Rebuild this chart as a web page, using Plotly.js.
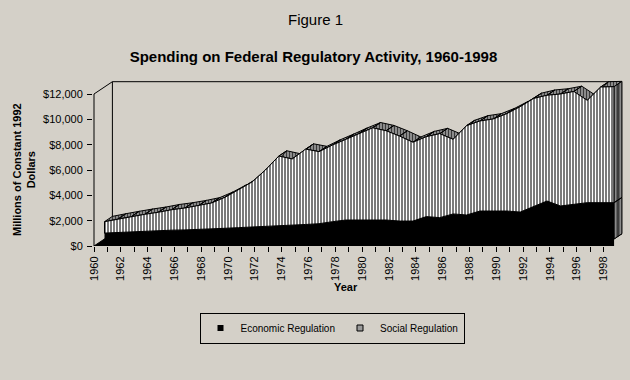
<!DOCTYPE html>
<html>
<head>
<meta charset="utf-8">
<script src="https://cdn.plot.ly/plotly-3.0.1.min.js"></script>
<style>
html,body{margin:0;padding:0;background:#d4d0c8;}
#chart{width:630px;height:380px;}
</style>
</head>
<body>
<div id="chart"></div>
<script>
// ---- data (millions of constant 1992 dollars) ----
const years = [1960,1961,1962,1963,1964,1965,1966,1967,1968,1969,1970,1971,1972,1973,1974,1975,1976,1977,1978,1979,
               1980,1981,1982,1983,1984,1985,1986,1987,1988,1989,1990,1991,1992,1993,1994,1995,1996,1997,1998];
const economic = [1020,1070,1090,1130,1200,1250,1270,1320,1340,1400,1450,1520,1580,1610,1660,1700,1760,1920,2050,2050,
                  2050,2050,1970,1970,2320,2240,2530,2450,2760,2760,2760,2680,3100,3550,3160,3290,3420,3420,3420];
const social = [900,1060,1230,1370,1460,1610,1730,1860,2060,2450,2970,3530,4420,5490,5210,5950,5690,6050,6370,6850,
                7280,7050,6710,6220,6310,6630,5890,7050,7110,7270,7690,8320,8550,8350,8840,8910,8080,9130,9160];
const seriesNames = ['Economic Regulation','Social Regulation'];
const xTickLabels = ['1960','1962','1964','1966','1968','1970','1972','1974','1976','1978',
                     '1980','1982','1984','1986','1988','1990','1992','1994','1996','1998'];
const yTickValues = [0,2000,4000,6000,8000,10000,12000];
const yTickLabels = ['$0','$2,000','$4,000','$6,000','$8,000','$10,000','$12,000'];

// ---- 3-D look: oblique depth offsets expressed in axis units ----
const PX_PER_YEAR = 13.41, PX_PER_THOUSAND = 12.667;
const ux = p => p / PX_PER_YEAR;
const uy = p => p / PX_PER_THOUSAND * 1000;
const faceShift = ux(10.5);
const depthX = ux(7.9), depthY = uy(5.3);
const wallX = faceShift + depthX, wallY = uy(12.3);

const n = years.length;
const total = economic.map((e, i) => e + social[i]);
const xf = years.map(y => y + faceShift);

const topX = [], topY = [];
for (let i = 0; i < n - 1; i++) {
  topX.push(xf[i], xf[i+1], xf[i+1] + depthX, xf[i] + depthX, xf[i], null);
  topY.push(total[i], total[i+1], total[i+1] + depthY, total[i] + depthY, total[i], null);
}
const L = n - 1;
const floorAtFace = faceShift / wallX * wallY;
const sideX = [xf[L], xf[L], xf[L] + depthX, xf[L] + depthX, xf[L], null,
               xf[L], xf[L], xf[L] + depthX, xf[L] + depthX, xf[L]];
const sideY = [economic[L], total[L], total[L] + depthY, economic[L] + depthY, economic[L], null,
               floorAtFace, economic[L], economic[L] + depthY, wallY, floorAtFace];

const traces = [
  { type:'scatter', mode:'lines', x: topX, y: topY, fill:'toself', connectgaps:false,
    fillcolor:'#8c8c8c',
    fillpattern:{shape:'|', bgcolor:'#8c8c8c', fgcolor:'#3a3a3a', size:3, solidity:0.34},
    line:{color:'#000', width:1}, showlegend:false, hoverinfo:'skip' },
  { type:'scatter', mode:'lines', x: xf, y: economic, fill:'tozeroy',
    fillcolor:'#000', line:{color:'#000', width:1}, showlegend:false, hoverinfo:'skip' },
  { type:'scatter', mode:'lines', x: xf.concat(xf.slice().reverse()).concat([xf[0]]),
    y: total.concat(economic.slice().reverse()).concat([total[0]]), fill:'toself',
    fillcolor:'#7a7a7a',
    fillpattern:{shape:'|', bgcolor:'#7a7a7a', fgcolor:'#ffffff', size:3, solidity:0.34},
    line:{color:'#000', width:1}, showlegend:false, hoverinfo:'skip' },
  { type:'scatter', mode:'lines', x: sideX, y: sideY, fill:'toself', connectgaps:false,
    fillcolor:'#555',
    fillpattern:{shape:'|', bgcolor:'#3c3c3c', fgcolor:'#8a8a8a', size:5, solidity:0.4},
    line:{color:'#000', width:1}, showlegend:false, hoverinfo:'skip' },
  { type:'scatter', mode:'markers', x:[null], y:[null], name: seriesNames[0],
    marker:{symbol:'square', size:6, color:'#000'} },
  { type:'scatter', mode:'markers', x:[null], y:[null], name: seriesNames[1],
    marker:{symbol:'square', size:6, color:'#9a9a9a', line:{color:'#000', width:1}} }
];

const x0 = years[0], x1 = years[L];
const yTop = yTickValues[yTickValues.length - 1];
const shapes = [
  { type:'path', layer:'below', xref:'x', yref:'y',
    path:`M${x0},0 L${x1},0 L${x1 + wallX},${wallY} L${x0 + wallX},${wallY} Z`,
    fillcolor:'#000', line:{color:'#000', width:1} },
  { type:'line', layer:'below', xref:'x', yref:'y', x0:x0, y0:0, x1:x0, y1:yTop, line:{color:'#000', width:1} },
  { type:'line', layer:'below', xref:'x', yref:'y', x0:x0, y0:yTop, x1:x0 + wallX, y1:yTop + wallY, line:{color:'#000', width:1} },
  { type:'line', layer:'below', xref:'x', yref:'y', x0:x0 + wallX, y0:wallY, x1:x0 + wallX, y1:yTop + wallY, line:{color:'#000', width:1} },
  { type:'line', layer:'below', xref:'x', yref:'y', x0:x0 + wallX, y0:yTop + wallY, x1:x1 + wallX, y1:yTop + wallY, line:{color:'#000', width:1} }
];

const ML = 93, MR = 4, MT = 75, MB = 134;
const plotW = 630 - ML - MR, plotH = 380 - MT - MB;
const px = p => (p - ML) / plotW;
const py = p => (380 - MB - p) / plotH;

const layout = {
  width:630, height:380,
  paper_bgcolor:'#d4d0c8', plot_bgcolor:'#d4d0c8',
  margin:{l:ML, r:MR, t:MT, b:MB, autoexpand:false},
  font:{family:'Arial, "Liberation Sans", sans-serif', color:'#000', size:11},
  title:{text:'Spending on Federal Regulatory Activity, 1960-1998',
         font:{size:15, weight:'bold', color:'#000'},
         x:313.5/630, xanchor:'center', xref:'container', y:1 - 57/380, yanchor:'middle', yref:'container'},
  xaxis:{range:[x0 - ux(1), x0 + ux(630 - MR - 94)],
         tickmode:'array', tickvals: years,
         ticktext: years.map(y => xTickLabels.includes(String(y)) ? String(y) : ''),
         ticks:'outside', ticklen:5, tickcolor:'#000', tickwidth:1, tickangle:-90,
         tickfont:{size:11, color:'#000'},
         showgrid:false, zeroline:false, showline:false, fixedrange:true},
  yaxis:{range:[0, uy(plotH)],
         tickmode:'array', tickvals: yTickValues, ticktext: yTickLabels,
         ticks:'outside', ticklen:5, tickcolor:'#000', tickwidth:1,
         tickfont:{size:11, color:'#000'}, ticklabelstandoff:2,
         showgrid:false, zeroline:false, showline:false, fixedrange:true},
  showlegend:true,
  legend:{orientation:'h', x:px(332), xanchor:'center', y:py(328), yanchor:'middle',
          bordercolor:'#000', borderwidth:1, bgcolor:'rgba(0,0,0,0)',
          font:{size:10, color:'#000'}, itemclick:false, itemdoubleclick:false},
  annotations:[
    {text:'Figure 1', xref:'paper', yref:'paper', x:px(315), y:py(20), showarrow:false,
     xanchor:'center', yanchor:'middle', font:{size:15, color:'#000'}},
    {text:'Year', xref:'paper', yref:'paper', x:px(346), y:py(287), showarrow:false,
     xanchor:'center', yanchor:'middle', font:{size:11, weight:'bold', color:'#000'}},
    {text:'Millions of Constant 1992<br>Dollars', xref:'paper', yref:'paper', x:px(24), y:py(170),
     showarrow:false, textangle:-90, xanchor:'center', yanchor:'middle', align:'center',
     font:{size:11, weight:'bold', color:'#000'}}
  ],
  shapes: shapes
};

Plotly.newPlot('chart', traces, layout, {displayModeBar:false, staticPlot:true});
</script>
</body>
</html>
